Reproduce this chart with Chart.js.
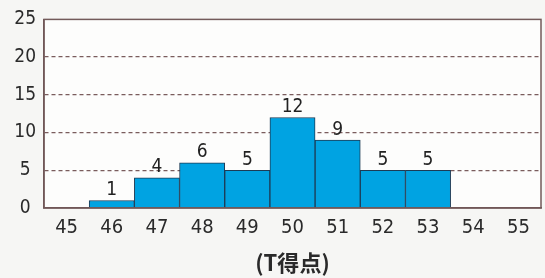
<!DOCTYPE html>
<html>
<head>
<meta charset="utf-8">
<script src="https://cdn.jsdelivr.net/npm/chart.js@4"></script>
<style>
  html, body { margin: 0; padding: 0; background: #f6f6f4; }
  #wrap { width: 545px; height: 278px; }
</style>
</head>
<body>
<div id="wrap"><canvas id="histo" width="545" height="278"></canvas></div>
<script>
// Datos del histograma
const scores = ['45', '46', '47', '48', '49', '50', '51', '52', '53', '54', '55'];
const counts = [0, 1, 4, 6, 5, 12, 9, 5, 5, 0, 0];
const yTicks = [0, 5, 10, 15, 20, 25];
const axisTitle = '(T得点)';

const FONT = "'DejaVu Sans Condensed', 'DejaVu Sans', sans-serif";

// Fondo blanco del área del gráfico + marco
const framePlugin = {
    id: 'frame',
    beforeDraw(chart) {
        const a = chart.chartArea;
        const ctx = chart.ctx;
        ctx.save();
        ctx.fillStyle = '#fdfdfc';
        ctx.fillRect(a.left, a.top, a.right - a.left, a.bottom - a.top);
        ctx.restore();
    },
    afterDatasetsDraw(chart) {
        const a = chart.chartArea;
        const ctx = chart.ctx;
        ctx.save();
        ctx.strokeStyle = '#735a5a';
        ctx.lineWidth = 1.5;
        ctx.strokeRect(a.left, a.top, a.right - a.left, a.bottom - a.top);
        ctx.restore();
    }
};

// Etiquetas de valor encima de cada barra
const valueLabels = {
    id: 'valueLabels',
    afterDatasetsDraw(chart) {
        const ctx = chart.ctx;
        const meta = chart.getDatasetMeta(0);
        ctx.save();
        ctx.font = '19px ' + FONT;
        ctx.fillStyle = '#222';
        ctx.textAlign = 'center';
        ctx.textBaseline = 'bottom';
        meta.data.forEach((bar, i) => {
            if (!counts[i]) return;
            ctx.fillText(String(counts[i]), bar.x, bar.y - 1);
        });
        ctx.restore();
    }
};

new Chart(document.getElementById('histo'), {
    type: 'bar',
    data: {
        labels: scores,
        datasets: [{
            data: counts,
            backgroundColor: '#00a3e2',
            borderColor: '#1d3b55',
            borderWidth: 1,
            barPercentage: 1,
            categoryPercentage: 1
        }]
    },
    options: {
        responsive: false,
        animation: false,
        layout: { padding: { top: 19, right: 4, left: 0, bottom: 2 } },
        plugins: {
            legend: { display: false },
            tooltip: { enabled: false }
        },
        scales: {
            x: {
                grid: { display: false, drawTicks: false },
                border: { color: '#6b5252', width: 1.5 },
                ticks: {
                    color: '#2a2a2a',
                    font: { family: FONT, size: 20 },
                    padding: 8,
                    maxRotation: 0
                },
                title: {
                    display: true,
                    text: axisTitle,
                    color: '#2a2a2a',
                    font: { family: "'Noto Sans CJK JP', sans-serif", size: 22, weight: 'bold' },
                    padding: { top: 1, bottom: 0 }
                },
                afterFit(scale) { scale.height = 68; }
            },
            y: {
                min: 0,
                max: 25,
                afterBuildTicks(scale) {
                    scale.ticks = yTicks.map(v => ({ value: v }));
                },
                grid: {
                    drawTicks: false,
                    color: ctx => (ctx.tick.value === 0 || ctx.tick.value === 25) ? 'rgba(0,0,0,0)' : '#7a5c5c',
                    lineWidth: 1.3
                },
                // en v4 el guion de la cuadrícula va en border.dash
                border: { color: '#6b5252', width: 1.5, dash: [4, 3] },
                ticks: {
                    color: '#2a2a2a',
                    font: { family: FONT, size: 19 },
                    padding: 8,
                    crossAlign: 'center'
                },
                afterFit(scale) { scale.width = 44; }
            }
        }
    },
    plugins: [framePlugin, valueLabels]
});
</script>
</body>
</html>
